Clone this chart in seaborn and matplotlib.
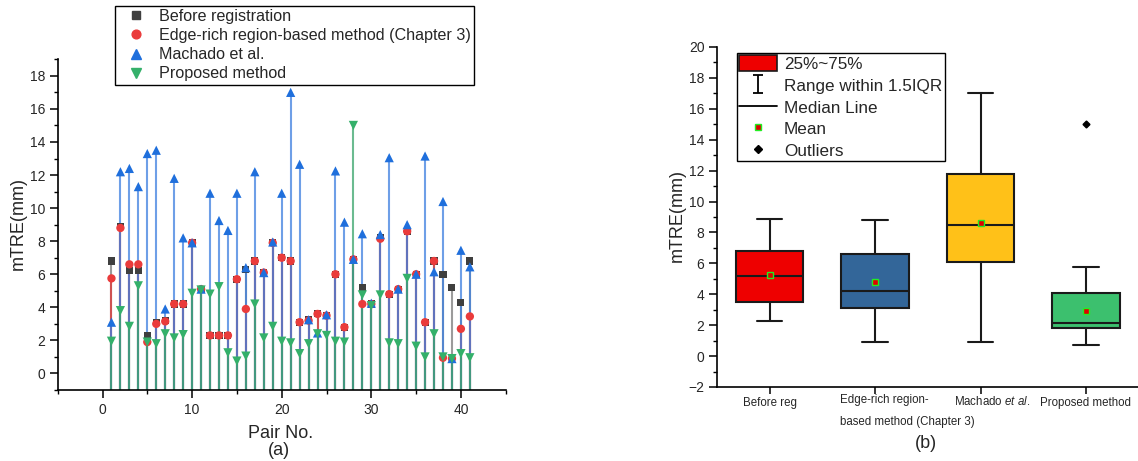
import numpy as np
import pandas as pd
import seaborn as sns
import matplotlib.pyplot as plt
from matplotlib.lines import Line2D
from matplotlib.patches import Patch
from matplotlib.path import Path
from matplotlib.ticker import MultipleLocator

# ---- data: mTRE (mm) for each image pair ----
pairs = list(range(1, 42))
before_reg = [6.8, 8.9, 6.2, 6.2, 2.3, 3.1, 3.2, 4.2, 4.2, 7.9,
              5.1, 2.3, 2.3, 2.3, 5.7, 6.3, 6.8, 6.1, 7.9, 7.0,
              6.8, 3.1, 3.25, 3.6, 3.5, 6.0, 2.8, 6.9, 5.2, 4.2,
              8.2, 4.8, 5.1, 8.6, 6.0, 3.1, 6.8, 6.0, 5.2, 4.3, 6.8]
edge_rich = [5.75, 8.8, 6.6, 6.6, 1.9, 3.0, 3.15, 4.2, 4.2, 7.9,
             5.1, 2.3, 2.3, 2.3, 5.7, 3.9, 6.8, 6.1, 7.9, 7.0,
             6.8, 3.1, 3.2, 3.6, 3.5, 6.0, 2.8, 6.9, 4.2, 4.2,
             8.15, 4.8, 5.1, 8.6, 6.0, 3.1, 6.8, 0.95, 0.9, 2.7, 3.45]
machado = [3.1, 12.2, 12.4, 11.3, 13.3, 13.5, 3.9, 11.8, 8.2, 7.9,
           5.1, 10.9, 9.25, 8.65, 10.9, 6.4, 12.2, 6.1, 7.95, 10.9,
           17.0, 12.65, 3.25, 2.45, 3.55, 12.25, 9.15, 6.9, 8.45, 4.25,
           8.4, 13.05, 5.1, 9.0, 6.0, 13.15, 6.15, 10.4, 0.9, 7.45, 6.45]
proposed = [1.95, 3.8, 2.85, 5.3, 1.9, 1.8, 2.4, 2.15, 2.35, 4.85,
            5.05, 4.8, 5.25, 1.25, 0.75, 1.05, 4.2, 2.15, 2.85, 1.95,
            1.85, 1.2, 1.8, 2.4, 2.3, 1.95, 1.9, 15.0, 4.75, 4.1,
            4.75, 1.85, 1.8, 5.75, 1.65, 1.0, 2.4, 1.0, 0.9, 1.2, 0.95]

series_names = ["Before registration", "Edge-rich region-based method (Chapter 3)",
                "Machado et al.", "Proposed method"]
box_names = ["Before reg", "Edge-rich", "Machado", "Proposed method"]
series_values = [before_reg, edge_rich, machado, proposed]

marker_colors = ["#3f3f3f", "#ea3b3b", "#1f6fdc", "#34b06a"]
stem_colors = ["#7a7a7a", "#e03a3a", "#3d7fe0", "#3aa56b"]
marker_shapes = ["s", "o", "^", "v"]
marker_areas = [26, 36, 44, 44]
box_colors = ["#ee0000", "#336699", "#ffc118", "#3cc06e"]

sns.set_style("ticks")
plt.rcParams["font.family"] = ["Liberation Sans", "DejaVu Sans"]
plt.rcParams["mathtext.fontset"] = "custom"
plt.rcParams["mathtext.rm"] = "Liberation Sans"
plt.rcParams["mathtext.it"] = "Liberation Sans:italic"

W, H = 1138, 461
fig = plt.figure(figsize=(W / 100, H / 100), dpi=100)
fig.patch.set_facecolor("white")


def px_axes(left, top, right, bottom):
    return fig.add_axes([left / W, 1 - bottom / H, (right - left) / W, (bottom - top) / H])


def fig_text(x, y, s, **kw):
    return fig.text(x / W, 1 - y / H, s, **kw)


# ================= (a) stem plot =================
ax1 = px_axes(57.7, 59.3, 505.7, 390)
ax1.set_facecolor("none")
ymin_a = -1

long_a = pd.DataFrame({
    "pair": np.tile(pairs, len(series_names)),
    "mtre": np.concatenate(series_values),
    "method": np.repeat(series_names, len(pairs)),
})

for name, col in zip(series_names, stem_colors):
    sub = long_a[long_a["method"] == name]
    ax1.vlines(sub["pair"], ymin_a, sub["mtre"], colors=col, alpha=0.75,
               linewidth=1.5, zorder=2)

sns.scatterplot(data=long_a, x="pair", y="mtre", hue="method", style="method", size="method",
                hue_order=series_names, style_order=series_names, size_order=series_names,
                palette=dict(zip(series_names, marker_colors)),
                markers=dict(zip(series_names, marker_shapes)),
                sizes=dict(zip(series_names, marker_areas)),
                linewidth=0, ax=ax1, zorder=3, legend=False)

ax1.set_xlim(-5, 45)
ax1.set_ylim(ymin_a, 19)
ax1.xaxis.set_major_locator(MultipleLocator(10))
ax1.xaxis.set_minor_locator(MultipleLocator(5))
ax1.yaxis.set_minor_locator(MultipleLocator(1))
ax1.set_yticks(range(0, 19, 2))
ax1.set_xlabel("")
ax1.set_ylabel("")
sns.despine(ax=ax1)
for sp in ("left", "bottom"):
    ax1.spines[sp].set_linewidth(1.2)
    ax1.spines[sp].set_color("black")
ax1.tick_params(axis="both", which="major", direction="out", length=6, width=1.1,
                labelsize=10, color="black", pad=3)
ax1.tick_params(axis="both", which="minor", direction="out", length=3, width=1.0, color="black")

handles_a = [Line2D([], [], linestyle="none", marker=m, color=c, markersize=np.sqrt(a) * 1.05)
             for m, c, a in zip(marker_shapes, marker_colors, marker_areas)]
leg_a = ax1.legend(handles_a, series_names, loc="upper left",
                   bbox_to_anchor=(115.3 / W, 1 - 5.7 / H), bbox_transform=fig.transFigure,
                   fontsize=11.6, frameon=True, fancybox=False, edgecolor="black",
                   framealpha=1, handlelength=2.2, handletextpad=0.3, labelspacing=0.26,
                   borderpad=0.2, borderaxespad=0)
leg_a.get_frame().set_linewidth(1.0)

fig_text(18, 223, "mTRE(mm)", rotation=90, ha="center", va="center", fontsize=13)
fig_text(281, 433, "Pair No.", ha="center", va="center", fontsize=13)
fig_text(279, 450, "(a)", ha="center", va="center", fontsize=13)

# ================= (b) box plot =================
ax2 = px_axes(717, 47, 1138.6, 387)
ax2.set_facecolor("none")

long_b = pd.DataFrame({
    "method": np.repeat(box_names, len(pairs)),
    "mtre": np.concatenate(series_values),
})

sns.boxplot(data=long_b, x="method", y="mtre", hue="method", order=box_names,
            hue_order=box_names, palette=dict(zip(box_names, box_colors)),
            width=0.64, linewidth=1.5, linecolor="#1a1a1a", saturation=1, whis=1.5,
            showmeans=True,
            meanprops=dict(marker="s", markerfacecolor="#e00000", markeredgecolor="#22ee22",
                           markersize=4.5, markeredgewidth=1.0),
            flierprops=dict(marker="D", markerfacecolor="black", markeredgecolor="black",
                            markersize=3.5),
            capwidths=0.24, legend=False, ax=ax2)

ax2.set_xlim(-0.5, 3.5)
ax2.set_ylim(-2, 20)
ax2.yaxis.set_major_locator(MultipleLocator(2))
ax2.yaxis.set_minor_locator(MultipleLocator(1))
ax2.set_xlabel("")
ax2.set_ylabel("")
sns.despine(ax=ax2)
for sp in ("left", "bottom"):
    ax2.spines[sp].set_linewidth(1.2)
    ax2.spines[sp].set_color("black")
ax2.tick_params(axis="y", which="major", direction="out", length=6, width=1.1,
                labelsize=10, color="black", pad=3)
ax2.tick_params(axis="y", which="minor", direction="out", length=3, width=1.0, color="black")
ax2.tick_params(axis="x", which="major", direction="out", length=5, width=1.1,
                color="black", labelsize=8.3, pad=2.5)
ax2.set_xticks(range(4))
ax2.set_xticklabels(["Before reg", "", "", "Proposed method"])

# category captions that do not sit centred on their ticks
fig_text(840, 400, "Edge-rich region-", ha="left", va="center", fontsize=8.3)
fig_text(840, 421.7, "based method (Chapter 3)", ha="left", va="center", fontsize=8.3)
fig_text(992, 401, r"Machado $\it{et\ al.}$", ha="center", va="center", fontsize=8.3)

fig_text(677.5, 216, "mTRE(mm)", rotation=90, ha="center", va="center", fontsize=13)
fig_text(926, 443, "(b)", ha="center", va="center", fontsize=13)

# whisker-range symbol for the legend
range_path = Path([(-0.6, 1), (0.6, 1), (0, 1), (0, -1), (-0.6, -1), (0.6, -1)],
                  [Path.MOVETO, Path.LINETO, Path.MOVETO, Path.LINETO, Path.MOVETO, Path.LINETO])
handles_b = [
    Patch(facecolor="#ee0000", edgecolor="#1a1a1a", linewidth=1.2),
    Line2D([], [], linestyle="none", marker=range_path, color="black", markersize=12.5,
           markeredgewidth=1.3),
    Line2D([], [], color="black", linewidth=1.3),
    Line2D([], [], linestyle="none", marker="s", markerfacecolor="#e00000",
           markeredgecolor="#22ee22", markersize=4.5),
    Line2D([], [], linestyle="none", marker="D", color="black", markersize=4),
]
labels_b = ["25%~75%", "Range within 1.5IQR", "Median Line", "Mean", "Outliers"]
leg_b = ax2.legend(handles_b, labels_b, loc="upper left", bbox_to_anchor=(0.047, 0.983),
                   fontsize=12.3, frameon=True, fancybox=False, edgecolor="black",
                   framealpha=1, handlelength=2.2, handleheight=1.05, handletextpad=0.4,
                   labelspacing=0.29, borderpad=0.15, borderaxespad=0)
leg_b.get_frame().set_linewidth(1.0)

fig.savefig("out.png", dpi=100, facecolor="white")
